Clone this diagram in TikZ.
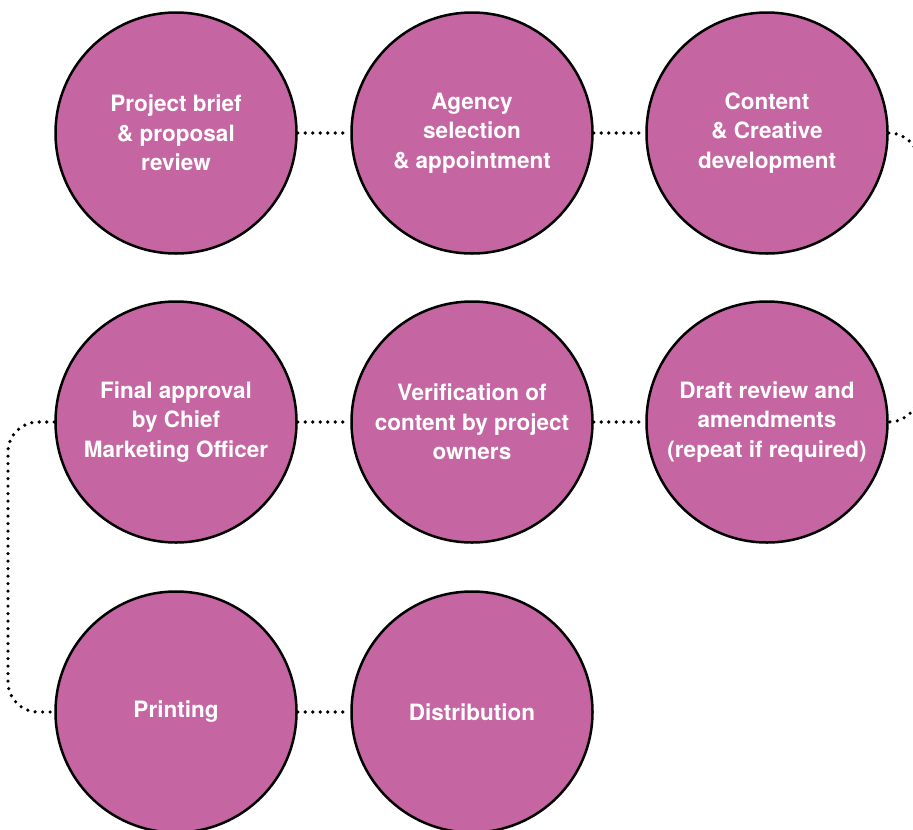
\documentclass[tikz,border=0pt]{standalone}
\usepackage{fontspec}
\setmainfont{TeX Gyre Heros}
\definecolor{stagepink}{RGB}{197,101,161}
\tikzset{
  stage/.style={circle, draw=black, line width=2.5pt, fill=stagepink, minimum size=241pt,
    inner sep=0pt, text=white, align=center, font=\bfseries\fontsize{22.5}{29.5}\selectfont},
  link/.style={line width=3.6pt, line cap=round, dash pattern=on 0pt off 7.5pt},
}
\begin{document}
\begin{tikzpicture}[x=1pt,y=-1pt]
\useasboundingbox (0,0) rectangle (913,830);

% Stages, row by row
\node[stage] (brief)    at (176,133) {Project brief\\\& proposal\\review};
\node[stage] (agency)   at (472,133) {Agency\\selection\\\& appointment};
\node[stage] (content)  at (767,133) {Content\\\& Creative\\development};
\node[stage] (approval) at (176,422) {Final approval\\by Chief\\Marketing Officer};
\node[stage] (verify)   at (472,422) {Verification of\\content by project\\owners};
\node[stage] (draft)    at (767,422) {Draft review and\\amendments\\(repeat if required)};
\node[stage] (printing) at (176,712) {Printing};
\node[stage] (distrib)  at (472,712) {Distribution};

% Links between neighbouring stages
\foreach \a/\b in {brief/agency, agency/content, approval/verify, verify/draft, printing/distrib}
  \draw[link] (\a) -- (\b);

% Loops round the row ends
\draw[link, rounded corners=30pt] (content.east) -| (919,277) |- (draft.east);
\draw[link, rounded corners=30pt] (approval.west) -| (8,567) |- (printing.west);
\end{tikzpicture}
\end{document}
